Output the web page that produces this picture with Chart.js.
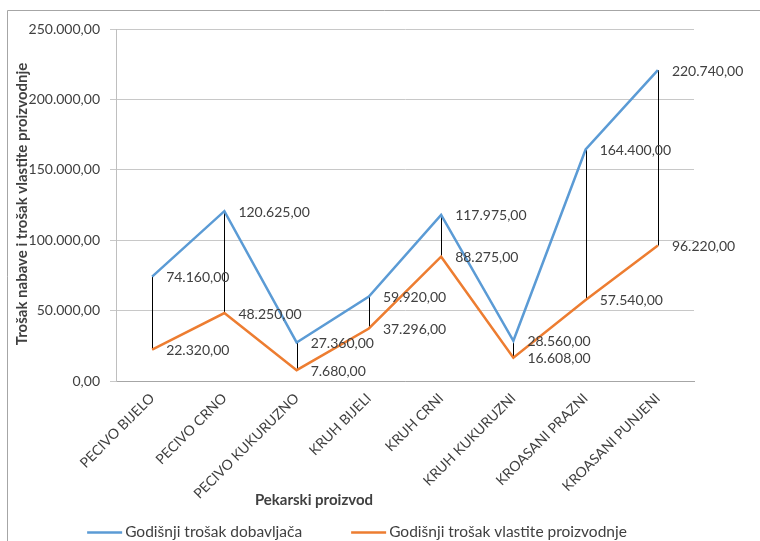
<!DOCTYPE html>
<html lang="hr">
<head>
<meta charset="UTF-8">
<title>Trošak nabave i vlastite proizvodnje</title>
<script src="https://cdn.jsdelivr.net/npm/chart.js"></script>
<style>
    html, body { margin: 0; padding: 0; background: #fff; }
    #wrap { width: 760px; height: 541px; }
</style>
</head>
<body>
<div id="wrap"><canvas id="chart" width="760" height="541"></canvas></div>
<script>
// data
const categories = ["PECIVO BIJELO", "PECIVO CRNO", "PECIVO KUKURUZNO", "KRUH BIJELI",
    "KRUH CRNI", "KRUH KUKURUZNI", "KROASANI PRAZNI", "KROASANI PUNJENI"];
const trosakDobavljaca = [74160, 120625, 27360, 59920, 117975, 28560, 164400, 220740];
const trosakVlastite = [22320, 48250, 7680, 37296, 88275, 16608, 57540, 96220];
const yTickValues = [0, 50000, 100000, 150000, 200000, 250000];

const textColor = "#404040";
const fontFamily = "Lato, 'Open Sans', sans-serif";

// 1234.5 -> "1.234,50"
function fmt(v) {
    const parts = v.toFixed(2).split(".");
    return parts[0].replace(/\B(?=(\d{3})+(?!\d))/g, ".") + "," + parts[1];
}

// grey frame round the chart, as in the original
const frame = {
    id: "frame",
    beforeDraw(chart) {
        const ctx = chart.ctx;
        ctx.save();
        ctx.fillStyle = "#fff";
        ctx.fillRect(0, 0, chart.width, chart.height);
        ctx.strokeStyle = "#a6a6a6";
        ctx.lineWidth = 1;
        ctx.beginPath();
        ctx.moveTo(7.5, chart.height + 2);
        ctx.lineTo(7.5, 10.5);
        ctx.lineTo(chart.width + 2, 10.5);
        ctx.stroke();
        ctx.restore();
    }
};

// thin black high-low lines between the two series
const highLow = {
    id: "highLow",
    beforeDatasetsDraw(chart) {
        const a = chart.getDatasetMeta(0).data;
        const b = chart.getDatasetMeta(1).data;
        const ctx = chart.ctx;
        ctx.save();
        ctx.strokeStyle = "#000";
        ctx.lineWidth = 1;
        a.forEach((p, i) => {
            const x = Math.round(p.x) + 0.5;
            ctx.beginPath();
            ctx.moveTo(x, p.y);
            ctx.lineTo(x, b[i].y);
            ctx.stroke();
        });
        ctx.restore();
    }
};

// value labels right of each point
const dataLabels = {
    id: "dataLabels",
    afterDatasetsDraw(chart) {
        const ctx = chart.ctx;
        ctx.save();
        ctx.font = "14px " + fontFamily;
        ctx.fillStyle = textColor;
        ctx.textAlign = "left";
        ctx.textBaseline = "middle";
        chart.data.datasets.forEach((ds, di) => {
            chart.getDatasetMeta(di).data.forEach((pt, i) => {
                ctx.fillText(fmt(ds.data[i]), pt.x + 14, pt.y + 1);
            });
        });
        ctx.restore();
    }
};

// axis titles and legend, placed like the original
const extras = {
    id: "extras",
    afterDraw(chart) {
        const ctx = chart.ctx;
        const area = chart.chartArea;
        ctx.save();
        ctx.fillStyle = textColor;
        ctx.textBaseline = "middle";
        ctx.textAlign = "center";
        ctx.font = "bold 15px " + fontFamily;
        ctx.fillText("Pekarski proizvod", 314, 500);

        ctx.save();
        ctx.translate(22, (area.top + area.bottom) / 2 - 1);
        ctx.rotate(-Math.PI / 2);
        ctx.fillText("Trošak nabave i trošak vlastite proizvodnje", 0, 0);
        ctx.restore();

        // legend
        ctx.font = "15.5px " + fontFamily;
        ctx.textAlign = "left";
        const lineLen = 35, gap = 3, between = 49, y = 532;
        const items = chart.data.datasets.map(ds => ({
            text: ds.label, color: ds.borderColor, w: ctx.measureText(ds.label).width
        }));
        const total = items.reduce((s, it) => s + lineLen + gap + it.w, 0) + between * (items.length - 1);
        let x = 357 - total / 2;
        items.forEach(it => {
            ctx.strokeStyle = it.color;
            ctx.lineWidth = 2.5;
            ctx.beginPath();
            ctx.moveTo(x, y + 0.5);
            ctx.lineTo(x + lineLen, y + 0.5);
            ctx.stroke();
            ctx.fillText(it.text, x + lineLen + gap, y);
            x += lineLen + gap + it.w + between;
        });
        ctx.restore();
    }
};

new Chart(document.getElementById("chart"), {
    type: "line",
    data: {
        labels: categories,
        datasets: [
            {
                label: "Godišnji trošak dobavljača",
                data: trosakDobavljaca,
                borderColor: "#5B9BD5",
                backgroundColor: "#5B9BD5",
                borderWidth: 2.5,
                pointRadius: 0,
                tension: 0
            },
            {
                label: "Godišnji trošak vlastite proizvodnje",
                data: trosakVlastite,
                borderColor: "#ED7D31",
                backgroundColor: "#ED7D31",
                borderWidth: 2.5,
                pointRadius: 0,
                tension: 0
            }
        ]
    },
    options: {
        responsive: false,
        animation: false,
        layout: { padding: { left: 10, right: 66, top: 29, bottom: 30 } },
        plugins: {
            legend: { display: false },
            tooltip: { enabled: false }
        },
        scales: {
            x: {
                offset: true,
                grid: { display: false, drawTicks: false },
                border: { color: "#a6a6a6" },
                ticks: {
                    minRotation: 45,
                    maxRotation: 45,
                    padding: 9,
                    color: textColor,
                    font: { family: fontFamily, size: 14 }
                },
                afterFit: s => { s.height = 130; }
            },
            y: {
                min: 0,
                max: 250000,
                afterBuildTicks: s => { s.ticks = yTickValues.map(v => ({ value: v })); },
                grid: { color: "#c8c8c8", tickLength: 6 },
                border: { color: "#bfbfbf" },
                ticks: {
                    padding: 10,
                    color: textColor,
                    font: { family: fontFamily, size: 14 },
                    callback: v => fmt(v)
                },
                afterFit: s => { s.width = 106; }
            }
        }
    },
    plugins: [frame, highLow, dataLabels, extras]
});
</script>
</body>
</html>
